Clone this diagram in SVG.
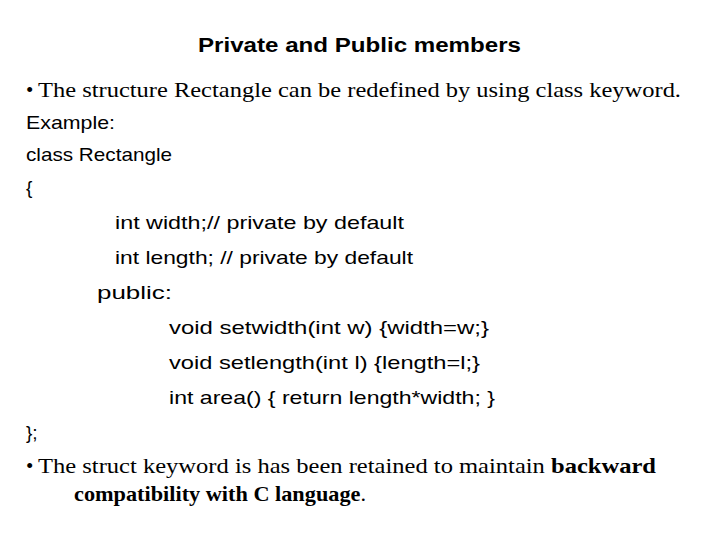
<svg xmlns="http://www.w3.org/2000/svg" width="720" height="540" viewBox="0 0 720 540">
<style>
.c{font-family:"Liberation Sans",Arial,sans-serif;font-size:19px;fill:#000}
.t{font-family:"Liberation Serif","Times New Roman",serif;font-size:21px;fill:#000}
.h{font-family:"Liberation Sans",Arial,sans-serif;font-size:20px;font-weight:bold;fill:#000}
</style>
<rect width="720" height="540" fill="#fff"/>
<text class="h" x="198" y="52" textLength="323" lengthAdjust="spacingAndGlyphs">Private and Public members</text>
<text class="t" x="26" y="97">•</text>
<text class="t" x="38" y="97" textLength="643" lengthAdjust="spacingAndGlyphs">The structure Rectangle can be redefined by using class keyword.</text>
<text class="c" x="26" y="129" textLength="89" lengthAdjust="spacingAndGlyphs">Example:</text>
<text class="c" x="26" y="161" textLength="146" lengthAdjust="spacingAndGlyphs">class Rectangle</text>
<text class="c" x="26" y="194">{</text>
<text class="c" x="115" y="229" textLength="289" lengthAdjust="spacingAndGlyphs">int width;// private by default</text>
<text class="c" x="115" y="264" textLength="298" lengthAdjust="spacingAndGlyphs">int length; // private by default</text>
<text class="c" x="97" y="299" textLength="75" lengthAdjust="spacingAndGlyphs">public:</text>
<text class="c" x="169" y="334" textLength="320" lengthAdjust="spacingAndGlyphs">void setwidth(int w) {width=w;}</text>
<text class="c" x="169" y="369" textLength="311" lengthAdjust="spacingAndGlyphs">void setlength(int l) {length=l;}</text>
<text class="c" x="169" y="404" textLength="326" lengthAdjust="spacingAndGlyphs">int area() { return length*width; }</text>
<text class="c" x="26" y="439">};</text>
<text class="t" x="26" y="473">•</text>
<text class="t" x="38" y="473" textLength="618" lengthAdjust="spacingAndGlyphs">The struct keyword is has been retained to maintain <tspan font-weight="bold">backward</tspan></text>
<text class="t" x="74" y="501" textLength="292" lengthAdjust="spacingAndGlyphs"><tspan font-weight="bold">compatibility with C language</tspan>.</text>
</svg>
